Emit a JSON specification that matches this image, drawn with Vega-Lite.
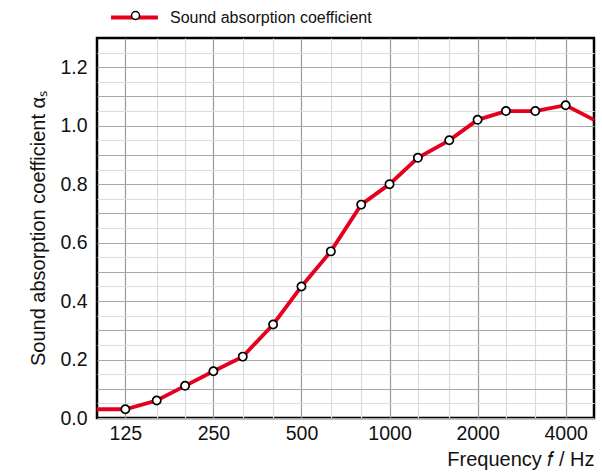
{
  "$schema": "https://vega.github.io/schema/vega-lite/v6.json",
  "width": 497,
  "height": 380,
  "autosize": {"type": "none"},
  "padding": {"left": 97, "top": 38, "right": 8, "bottom": 54},
  "background": "white",
  "config": {
    "font": "Liberation Sans",
    "view": {"stroke": "black", "strokeWidth": 2.5},
    "axis": {"labelFont": "Liberation Sans", "titleFont": "Liberation Sans", "labelFontSize": 19.5, "titleFontSize": 20, "labelColor": "#111", "titleColor": "#111", "titleFontWeight": "normal", "domain": false, "ticks": false, "gridWidth": 1.2},
    "legend": {"labelFont": "Liberation Sans"}
  },
  "data": {
    "values": [
      {"f": 100, "a": 0.03, "m": false, "s": "Sound absorption coefficient", "k": "marker"},
      {"f": 125, "a": 0.03, "m": true, "s": "Sound absorption coefficient", "k": "marker"},
      {"f": 160, "a": 0.06, "m": true, "s": "Sound absorption coefficient", "k": "marker"},
      {"f": 200, "a": 0.11, "m": true, "s": "Sound absorption coefficient", "k": "marker"},
      {"f": 250, "a": 0.16, "m": true, "s": "Sound absorption coefficient", "k": "marker"},
      {"f": 315, "a": 0.21, "m": true, "s": "Sound absorption coefficient", "k": "marker"},
      {"f": 400, "a": 0.32, "m": true, "s": "Sound absorption coefficient", "k": "marker"},
      {"f": 500, "a": 0.45, "m": true, "s": "Sound absorption coefficient", "k": "marker"},
      {"f": 630, "a": 0.57, "m": true, "s": "Sound absorption coefficient", "k": "marker"},
      {"f": 800, "a": 0.73, "m": true, "s": "Sound absorption coefficient", "k": "marker"},
      {"f": 1000, "a": 0.80, "m": true, "s": "Sound absorption coefficient", "k": "marker"},
      {"f": 1250, "a": 0.89, "m": true, "s": "Sound absorption coefficient", "k": "marker"},
      {"f": 1600, "a": 0.95, "m": true, "s": "Sound absorption coefficient", "k": "marker"},
      {"f": 2000, "a": 1.02, "m": true, "s": "Sound absorption coefficient", "k": "marker"},
      {"f": 2500, "a": 1.05, "m": true, "s": "Sound absorption coefficient", "k": "marker"},
      {"f": 3150, "a": 1.05, "m": true, "s": "Sound absorption coefficient", "k": "marker"},
      {"f": 4000, "a": 1.07, "m": true, "s": "Sound absorption coefficient", "k": "marker"},
      {"f": 5000, "a": 1.02, "m": false, "s": "Sound absorption coefficient", "k": "marker"}
    ]
  },
  "encoding": {
    "x": {
      "field": "f", "type": "quantitative",
      "scale": {"type": "log", "domain": [100, 5000], "nice": false},
      "axis": {
        "title": "Frequency 𝑓 / Hz",
        "titleAnchor": "end", "titleAlign": "right", "titlePadding": 7,
        "values": [125, 160, 200, 250, 315, 400, 500, 630, 800, 1000, 1250, 1600, 2000, 2500, 3150, 4000],
        "labelExpr": "indexof([125,250,500,1000,2000,4000], datum.value) >= 0 ? datum.value : ''",
        "labelPadding": 6,
        "labelFlush": false,
        "labelOverlap": false,
        "gridColor": {"condition": {"test": "indexof([125,250,500,1000,2000,4000], datum.value) >= 0", "value": "#9a9a9a"}, "value": "#dcdcdc"}
      }
    },
    "y": {
      "field": "a", "type": "quantitative",
      "scale": {"domain": [0, 1.3], "nice": false},
      "axis": {
        "title": "Sound absorption coefficient αₛ",
        "titlePadding": 11,
        "values": [0, 0.05, 0.1, 0.15, 0.2, 0.25, 0.3, 0.35, 0.4, 0.45, 0.5, 0.55, 0.6, 0.65, 0.7, 0.75, 0.8, 0.85, 0.9, 0.95, 1.0, 1.05, 1.1, 1.15, 1.2, 1.25],
        "labelExpr": "round(datum.value*20) % 4 == 0 ? format(datum.value, '.1f') : ''",
        "labelPadding": 10,
        "labelOverlap": false,
        "labelFlush": false,
        "gridColor": {"condition": {"test": "round(datum.value*20) % 2 == 0", "value": "#a8a8a8"}, "value": "#dcdcdc"}
      }
    }
  },
  "layer": [
    {
      "mark": {"type": "line", "interpolate": "linear", "strokeWidth": 3.8},
      "encoding": {
        "color": {
          "field": "s", "type": "nominal",
          "scale": {"range": ["#e5001f"]},
          "legend": {
            "title": null, "orient": "none", "legendX": 12, "legendY": -46,
            "symbolType": "stroke", "symbolSize": 2200, "symbolStrokeWidth": 4,
            "labelFontSize": 16, "labelLimit": 400, "labelColor": "#111", "labelOffset": 10
          }
        }
      }
    },
    {
      "transform": [{"filter": "datum.m"}],
      "mark": {"type": "point", "filled": false, "fill": "white", "stroke": "black", "color": "black", "strokeWidth": 1.7, "size": 68, "opacity": 1},
      "encoding": {
        "shape": {
          "field": "k", "type": "nominal",
          "scale": {"range": ["circle"]},
          "legend": {
            "title": null, "orient": "none", "legendX": 31, "legendY": -30,
            "symbolSize": 64,
            "labelExpr": "''", "labelFontSize": 15,
            "encode": {"symbols": {"update": {"stroke": {"value": "black"}, "fill": {"value": "white"}, "strokeWidth": {"value": 1.7}, "opacity": {"value": 1}}}}
          }
        }
      }
    }
  ]
}
